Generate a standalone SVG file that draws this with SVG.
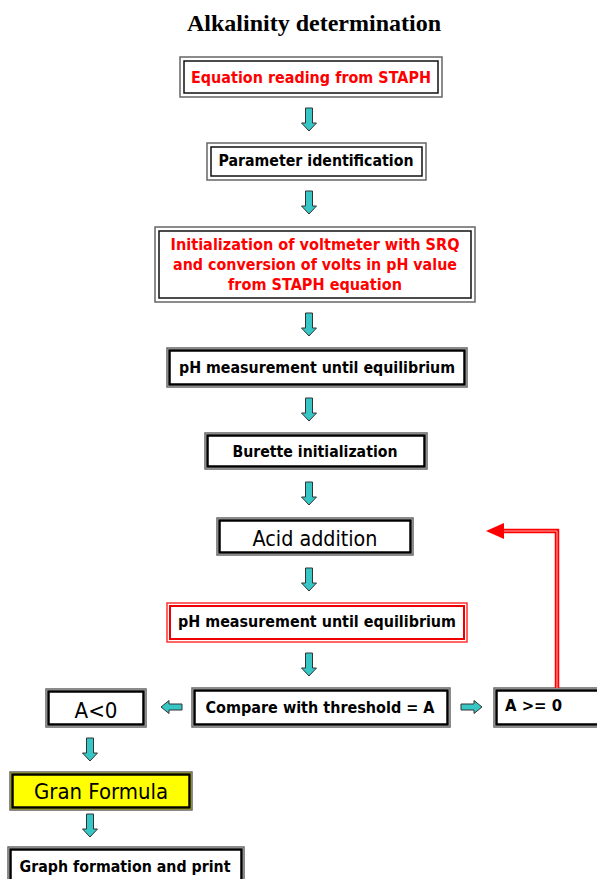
<svg xmlns="http://www.w3.org/2000/svg" xmlns:xlink="http://www.w3.org/1999/xlink" width="597" height="879" viewBox="0 0 597 879">
<style>
  .o{fill:none;stroke:#666;stroke-width:1.5}
  .i{fill:none;stroke:#111;stroke-width:1.5}
  .tk{fill:none;stroke:#000;stroke-width:2.5}
  .b{font-family:"DejaVu Sans",Verdana,sans-serif;font-weight:bold;font-size:16.5px;text-anchor:middle;fill:#000}
  .r{fill:#ff0000}
  .n{font-family:"DejaVu Sans",Tahoma,sans-serif;font-size:21px;text-anchor:middle;fill:#000}
  .ar{fill:#36c6c6;stroke:#333;stroke-width:1}
</style>
<defs>
  <path id="dn" d="M-3.5,0 H3.5 V15 H7.5 L0,23 L-7.5,15 H-3.5 Z"/>
  <path id="lf" d="M0,0 L8,-6.5 V-3 H21 V3 H8 V6.5 Z"/>
</defs>
<rect width="597" height="879" fill="#fff"/>
<text x="314" y="31" font-family="Liberation Serif,serif" font-weight="bold" font-size="24" text-anchor="middle">Alkalinity determination</text>

<g id="n1">
  <rect class="o" x="180" y="57" width="262" height="40"/>
  <rect class="i" x="184" y="61" width="254" height="32"/>
  <text class="b r" x="311" y="83" textLength="240" lengthAdjust="spacingAndGlyphs">Equation reading from STAPH</text>
</g>
<g id="n2">
  <rect class="o" x="207" y="143" width="219" height="37"/>
  <rect class="i" x="211" y="147" width="211" height="29"/>
  <text class="b" x="316" y="166" textLength="195" lengthAdjust="spacingAndGlyphs">Parameter identification</text>
</g>
<g id="n3">
  <rect class="o" x="155" y="227" width="320" height="75"/>
  <rect class="i" x="159" y="231" width="312" height="67"/>
  <text class="b r" x="315" y="250" textLength="289" lengthAdjust="spacingAndGlyphs">Initialization of voltmeter with SRQ</text>
  <text class="b r" x="315" y="270" textLength="284" lengthAdjust="spacingAndGlyphs">and conversion of volts in pH value</text>
  <text class="b r" x="315" y="290" textLength="174" lengthAdjust="spacingAndGlyphs">from STAPH equation</text>
</g>
<g id="n4">
  <rect class="o" x="167" y="348" width="300" height="39"/>
  <rect class="tk" x="169.5" y="350.5" width="295" height="34"/>
  <text class="b" x="317" y="373" textLength="276" lengthAdjust="spacingAndGlyphs">pH measurement until equilibrium</text>
</g>
<g id="n5">
  <rect class="o" x="205" y="433" width="222" height="36"/>
  <rect class="tk" x="207.5" y="435.5" width="217" height="31"/>
  <text class="b" x="315" y="457" textLength="165" lengthAdjust="spacingAndGlyphs">Burette initialization</text>
</g>
<g id="n6">
  <rect class="o" x="217" y="518" width="196" height="37"/>
  <rect class="tk" x="219.5" y="520.5" width="191" height="32"/>
  <text class="n" x="315" y="546" textLength="125" lengthAdjust="spacingAndGlyphs">Acid addition</text>
</g>
<g id="n7">
  <rect fill="none" stroke="#ff3333" stroke-width="1.5" x="167" y="603" width="300" height="39"/>
  <rect fill="none" stroke="#ee0000" stroke-width="2" x="170" y="606" width="294" height="33"/>
  <text class="b" x="317" y="627" textLength="278" lengthAdjust="spacingAndGlyphs">pH measurement until equilibrium</text>
</g>
<g id="n8">
  <rect class="o" x="192" y="688" width="258" height="39"/>
  <rect class="tk" x="194.5" y="690.5" width="253" height="34"/>
  <text class="b" x="320" y="713" textLength="229" lengthAdjust="spacingAndGlyphs">Compare with threshold = A</text>
</g>
<g id="n9">
  <rect class="o" x="46" y="689" width="100" height="38"/>
  <rect class="tk" x="48.5" y="691.5" width="95" height="33"/>
  <text class="n" x="96" y="718" textLength="43" lengthAdjust="spacingAndGlyphs">A&lt;0</text>
</g>
<g id="n10">
  <rect class="o" x="494" y="688" width="110" height="39"/>
  <rect class="tk" x="496.5" y="690.5" width="110" height="34"/>
  <text class="b" x="505" y="711" style="text-anchor:start" textLength="57" lengthAdjust="spacingAndGlyphs">A &gt;= 0</text>
</g>
<g id="n11">
  <rect x="10" y="772" width="182" height="38" fill="#ffff00" stroke="#666" stroke-width="1.5"/>
  <rect class="tk" x="12.5" y="774.5" width="177" height="33"/>
  <text class="n r" x="101" y="799" textLength="134" lengthAdjust="spacingAndGlyphs">Gran Formula</text>
</g>
<g id="n12">
  <rect class="o" x="8" y="847" width="236" height="40"/>
  <rect class="tk" x="10.5" y="849.5" width="231" height="35"/>
  <text class="b" x="125" y="872" textLength="211" lengthAdjust="spacingAndGlyphs">Graph formation and print</text>
</g>

<g id="connectors">
  <use xlink:href="#dn" href="#dn" class="ar" transform="translate(309,108)"/>
  <use xlink:href="#dn" href="#dn" class="ar" transform="translate(309,191)"/>
  <use xlink:href="#dn" href="#dn" class="ar" transform="translate(309,313)"/>
  <use xlink:href="#dn" href="#dn" class="ar" transform="translate(309,398)"/>
  <use xlink:href="#dn" href="#dn" class="ar" transform="translate(309,482)"/>
  <use xlink:href="#dn" href="#dn" class="ar" transform="translate(309,568)"/>
  <use xlink:href="#dn" href="#dn" class="ar" transform="translate(309,653)"/>
  <use xlink:href="#dn" href="#dn" class="ar" transform="translate(90,738)"/>
  <use xlink:href="#dn" href="#dn" class="ar" transform="translate(90,814)"/>
  <use xlink:href="#lf" href="#lf" class="ar" transform="translate(161,707)"/>
  <use xlink:href="#lf" href="#lf" class="ar" transform="translate(482,707) scale(-1,1)"/>
  <path d="M557,688 V531 H503" fill="none" stroke="#ff0000" stroke-width="4.5"/>
  <path d="M557,688 V531 H503" fill="none" stroke="#ffaaaa" stroke-width="1"/>
  <polygon points="486,531 504,523 504,539" fill="#ff0000"/>
</g>
</svg>
